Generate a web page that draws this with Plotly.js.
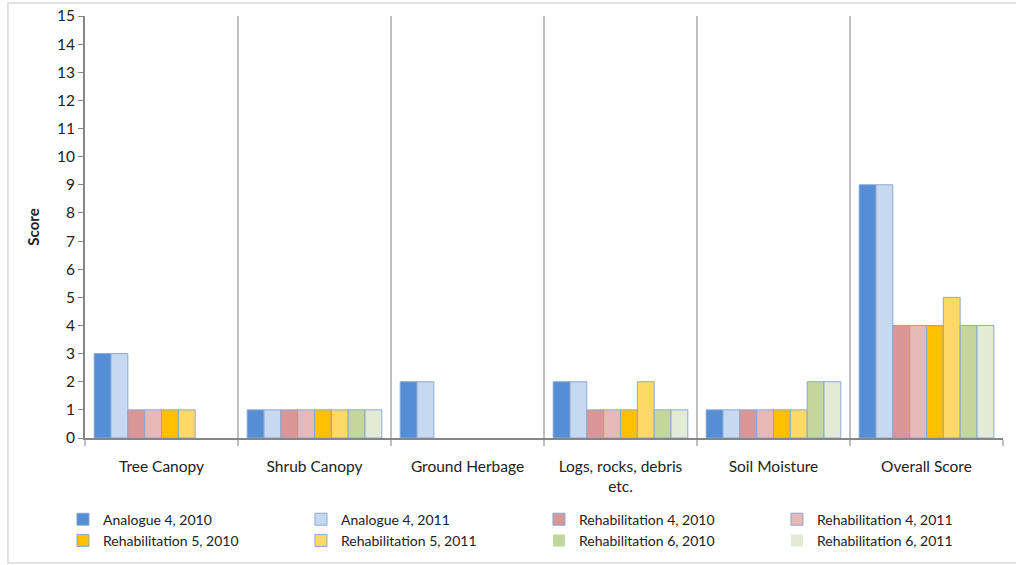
<!DOCTYPE html>
<html>
<head>
<meta charset="utf-8">
<script src="https://cdn.plot.ly/plotly-3.0.1.min.js"></script>
<style>
  html, body { margin: 0; padding: 0; background: #fff; }
  #chart { width: 1016px; height: 565px; }
</style>
</head>
<body>
<div id="chart"></div>
<script>
// ---- data ----
const categories = ["Tree Canopy", "Shrub Canopy", "Ground Herbage", "Logs, rocks, debris<br>etc.", "Soil Moisture", "Overall Score"];
const seriesNames = [
  "Analogue 4, 2010", "Analogue 4, 2011",
  "Rehabilitation 4, 2010", "Rehabilitation 4, 2011",
  "Rehabilitation 5, 2010", "Rehabilitation 5, 2011",
  "Rehabilitation 6, 2010", "Rehabilitation 6, 2011"
];
const analogue4_2010 = [3, 1, 2, 2, 1, 9];
const analogue4_2011 = [3, 1, 2, 2, 1, 9];
const rehab4_2010    = [1, 1, 0, 1, 1, 4];
const rehab4_2011    = [1, 1, 0, 1, 1, 4];
const rehab5_2010    = [1, 1, 0, 1, 1, 4];
const rehab5_2011    = [1, 1, 0, 2, 1, 5];
const rehab6_2010    = [0, 1, 0, 1, 2, 4];
const rehab6_2011    = [0, 1, 0, 1, 2, 4];
const seriesValues = [analogue4_2010, analogue4_2011, rehab4_2010, rehab4_2011, rehab5_2010, rehab5_2011, rehab6_2010, rehab6_2011];
const yTicks = [0,1,2,3,4,5,6,7,8,9,10,11,12,13,14,15];

// ---- styles ----
const colors = ["#558ED5", "#C6D9F1", "#D99694", "#E6B9B8", "#FFC000", "#FFD966", "#C3D69B", "#E3EBD4"];
const edge = "rgba(135,165,210,0.95)";
const FONT = "Lato, 'Open Sans', sans-serif";

const traces = seriesNames.map((name, i) => ({
  type: "bar",
  name: name,
  x: categories,
  y: seriesValues[i],
  marker: {
    color: colors[i],
    line: { color: edge, width: seriesValues[i].map(v => v === 0 ? 0 : 1) }
  },
  hoverinfo: "x+y+name"
}));

const layout = {
  width: 1016,
  height: 565,
  margin: { l: 85, r: 13, t: 16, b: 127, autoexpand: false },
  paper_bgcolor: "#ffffff",
  plot_bgcolor: "#ffffff",
  font: { family: FONT, size: 14, color: "#222" },
  barmode: "group",
  bargap: 0.12,
  bargroupgap: 0,
  showlegend: true,
  legend: {
    orientation: "h",
    x: -0.024, xanchor: "left",
    y: -0.1555, yanchor: "top",
    entrywidth: 193,
    entrywidthmode: "pixels",
    traceorder: "normal",
    font: { family: FONT, size: 14, color: "#222" },
    itemwidth: 30,
    tracegroupgap: 0,
    bgcolor: "rgba(0,0,0,0)"
  },
  xaxis: {
    type: "category",
    tickson: "boundaries",
    ticks: "outside",
    ticklen: 6,
    tickcolor: "#BFBFBF",
    tickwidth: 1.5,
    showgrid: true,
    gridcolor: "#BFBFBF",
    gridwidth: 1.5,
    showline: true,
    linecolor: "#868686",
    linewidth: 1.5,
    ticklabelstandoff: 14,
    tickfont: { family: FONT, size: 15.5, color: "#222" },
    zeroline: false,
    automargin: false,
    fixedrange: true
  },
  yaxis: {
    range: [0, 15],
    tickvals: yTicks,
    ticktext: yTicks.map(String),
    ticks: "outside",
    ticklen: 5,
    tickcolor: "#868686",
    tickwidth: 1,
    showgrid: false,
    showline: true,
    linecolor: "#868686",
    linewidth: 2,
    zeroline: false,
    automargin: false,
    tickfont: { family: FONT, size: 15.5, color: "#222" },
    title: { text: "<b>Score</b>", font: { family: FONT, size: 15, color: "#222" }, standoff: 14 },
    fixedrange: true
  },
  shapes: [
    {
      type: "rect", xref: "paper", yref: "paper",
      x0: -0.0839, x1: 1.06, y0: -0.2962, y1: 1.0308,
      line: { color: "#D9D9D9", width: 1.5 },
      fillcolor: "rgba(0,0,0,0)",
      layer: "below"
    }
  ]
};

Plotly.newPlot("chart", traces, layout, { displayModeBar: false, staticPlot: true });
</script>
</body>
</html>
